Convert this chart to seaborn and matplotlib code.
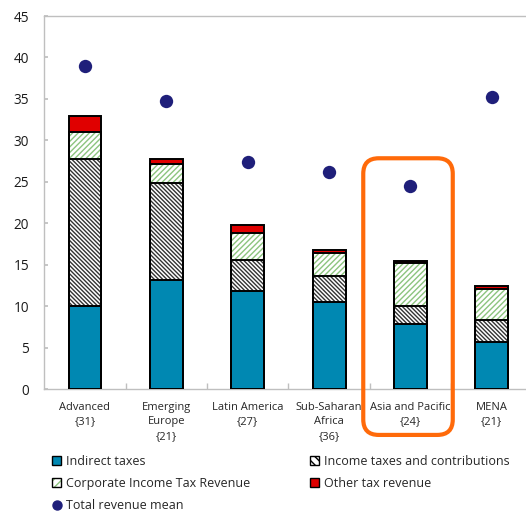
import matplotlib
matplotlib.use("Agg")
import matplotlib.pyplot as plt
from matplotlib.patches import Patch, Rectangle, FancyBboxPatch
from matplotlib.lines import Line2D
from matplotlib.ticker import FixedLocator
import seaborn as sns
import pandas as pd
import numpy as np

# Tax revenue composition by region (percent of GDP)
regions = ["Advanced\n{31}", "Emerging\nEurope\n{21}", "Latin America\n{27}",
           "Sub-Saharan\nAfrica\n{36}", "Asia and Pacific\n{24}", "MENA\n{21}"]
indirect = [10.1, 13.2, 11.8, 10.5, 7.9, 5.7]
income = [17.7, 11.7, 3.8, 3.2, 2.1, 2.7]
corporate = [3.2, 2.2, 3.3, 2.7, 5.2, 3.7]
other = [2.0, 0.7, 0.9, 0.4, 0.3, 0.4]
revenue_mean = [39.0, 34.7, 27.4, 26.2, 24.5, 35.2]

highlight = "Asia and Pacific\n{24}"

TEAL = "#0088B2"
RED = "#E00000"
GREEN_HATCH = "#8CC47E"
NAVY = "#1F1F7A"
ORANGE = "#FF6A0A"
AXIS_GRAY = "#BFBFBF"

INCOME_HATCH = "\\" * 8
CIT_HATCH = "/" * 6

df = pd.DataFrame({
    "region": regions,
    "indirect": indirect,
    "income": income,
    "corporate": corporate,
    "other": other,
    "mean": revenue_mean,
})
df["lvl1"] = df["indirect"]
df["lvl2"] = df["lvl1"] + df["income"]
df["lvl3"] = df["lvl2"] + df["corporate"]
df["lvl4"] = df["lvl3"] + df["other"]

sns.set_theme(style="white")
plt.rcParams["font.family"] = ["Open Sans", "DejaVu Sans"]
plt.rcParams["hatch.linewidth"] = 1.0

fig = plt.figure(figsize=(5.26, 5.12), dpi=100)
ax = fig.add_axes([44.3 / 526, 1 - 389.3 / 512, 488.2 / 526, 373.3 / 512])

bar_w = 0.405
common = dict(data=df, x="region", width=bar_w, saturation=1, errorbar=None,
              linewidth=0, ax=ax, zorder=2)
# stacked layers drawn tallest first, each opaque layer covering the one below
sns.barplot(y="lvl4", color=RED, edgecolor=RED, **common)
sns.barplot(y="lvl3", color="white", edgecolor=GREEN_HATCH, hatch=CIT_HATCH, **common)
sns.barplot(y="lvl2", color="white", edgecolor="#333333", hatch=INCOME_HATCH, **common)
sns.barplot(y="lvl1", color=TEAL, edgecolor=TEAL, **common)

# black outlines on every segment
for p in list(ax.patches):
    ax.add_patch(Rectangle(p.get_xy(), p.get_width(), p.get_height(),
                           fill=False, edgecolor="black", linewidth=1.4, zorder=3))

sns.stripplot(data=df, x="region", y="mean", jitter=False, size=9.6,
              color=NAVY, linewidth=0, ax=ax, zorder=4)

ax.set_xlim(-0.5, len(regions) - 0.5)
ax.set_ylim(0, 45)
ax.set_yticks(np.arange(0, 46, 5))
ax.set_xlabel("")
ax.set_ylabel("")
ax.set_xticks(range(len(regions)))
ax.set_xticklabels(regions, fontsize=8, color="#262626", linespacing=1.45)
ax.xaxis.set_minor_locator(FixedLocator(np.arange(0.5, len(regions) - 1, 1)))
ax.tick_params(axis="x", which="major", length=0, pad=9)
ax.tick_params(axis="x", which="minor", length=4, direction="in", color=AXIS_GRAY, bottom=True)
ax.tick_params(axis="y", length=3, direction="in", color=AXIS_GRAY, left=True,
               labelsize=9.8, labelcolor="#1a1a1a", pad=11)
for side in ["left", "bottom", "top"]:
    ax.spines[side].set_color(AXIS_GRAY)
    ax.spines[side].set_linewidth(1.0)
ax.spines["right"].set_visible(False)

# highlight box around Asia and Pacific
idx = regions.index(highlight)
x_per_px = 6 / 488.2
y_per_px = 45 / 373.3
box = FancyBboxPatch((idx - 0.58, -5.5), 1.1, 33.35,
                     boxstyle="round,pad=0,rounding_size=0.19",
                     mutation_aspect=y_per_px / x_per_px,
                     facecolor="none", edgecolor=ORANGE, linewidth=3.0,
                     clip_on=False, zorder=5)
ax.add_patch(box)

# legend
sq = dict(linewidth=1.0)
h_ind = Patch(facecolor=TEAL, edgecolor="black", **sq)
h_inc = Patch(facecolor="white", edgecolor="black", hatch="\\\\\\\\", **sq)
h_cit = (Patch(facecolor="white", edgecolor=GREEN_HATCH, hatch="////", linewidth=0),
         Patch(fill=False, edgecolor="black", **sq))
h_oth = Patch(facecolor=RED, edgecolor="black", **sq)
h_mean = Line2D([], [], marker="o", linestyle="none", color=NAVY, markersize=6.5)

leg_kw = dict(loc="upper left", frameon=False, fontsize=9, handlelength=0.75,
              handleheight=0.75, handletextpad=0.35, labelspacing=0.72,
              borderpad=0, borderaxespad=0, labelcolor="#262626")
fig.legend([h_ind, h_cit, h_mean],
           ["Indirect taxes", "Corporate Income Tax Revenue", "Total revenue mean"],
           bbox_to_anchor=(52 / 526, 1 - 455 / 512), **leg_kw)
fig.legend([h_inc, h_oth],
           ["Income taxes and contributions", "Other tax revenue"],
           bbox_to_anchor=(310 / 526, 1 - 455 / 512), **leg_kw)

fig.savefig("out.png", dpi=100)
